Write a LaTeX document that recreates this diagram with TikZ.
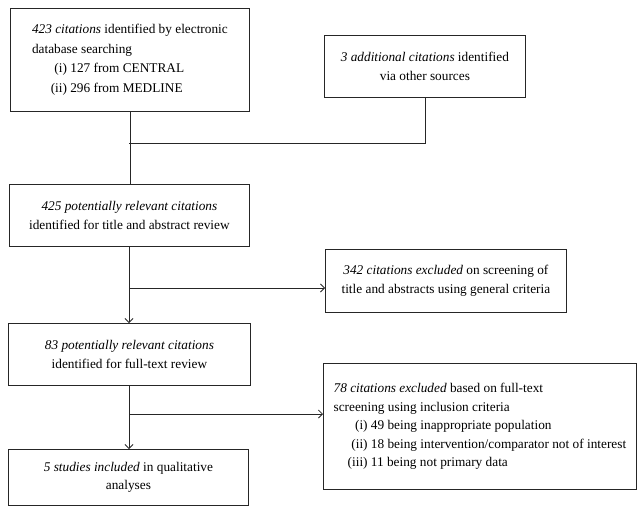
\documentclass[tikz,border=0pt]{standalone}
\usepackage{fontspec}
\setmainfont{Liberation Serif}
\usetikzlibrary{arrows.meta}
\newcommand\rlab[2]{\makebox[#1][r]{#2}\ }
\begin{document}
\begin{tikzpicture}[x=1pt,y=-1pt,
  box/.style={draw=black!85,line width=0.8pt,anchor=north west,inner sep=0pt,
    font=\fontsize{13.3}{18.5}\selectfont},
  conn/.style={draw=black!85,line width=0.8pt},
  arr/.style={conn,-{Straight Barb[length=4pt,width=8pt]}}]
\useasboundingbox (0,0) rectangle (644,514);
\node[box,minimum width=239pt,minimum height=103pt,align=left,
  font=\fontsize{13.3}{19.5}\selectfont] (b1) at (10,8)
  {\textit{423 citations} identified by electronic\\
   database searching\\
   \rlab{35pt}{(i)}127 from CENTRAL\\
   \rlab{35pt}{(ii)}296 from MEDLINE};
\node[box,minimum width=201pt,minimum height=62pt,align=center] (b2) at (324,35)
  {\textit{3 additional citations} identified\\ via other sources};
\node[box,minimum width=240pt,minimum height=62pt,align=center] (b3) at (9,184)
  {\textit{425 potentially relevant citations}\\ identified for title and abstract review};
\node[box,minimum width=241pt,minimum height=63pt,align=center] (b5) at (325,249)
  {\textit{342 citations excluded} on screening of\\ title and abstracts using general criteria};
\node[box,minimum width=242pt,minimum height=62pt,align=center] (b4) at (8,323)
  {\textit{83 potentially relevant citations}\\ identified for full-text review};
\node[box,minimum width=240pt,minimum height=56pt,align=center] (b6) at (8,449)
  {\textit{5 studies included} in qualitative\\ analyses};
\node[box,minimum width=313pt,minimum height=126pt,align=left] (b7) at (323,363)
  {\textit{78 citations excluded} based on full-text\\
   screening using inclusion criteria\\
   \rlab{34pt}{(i)}49 being inappropriate population\\
   \rlab{34pt}{(ii)}18 being intervention/comparator not of interest\\
   \rlab{34pt}{(iii)}11 being not primary data};
\coordinate (j1) at (129,143);
\coordinate (j2) at (129,288);
\coordinate (j3) at (129,414);
\draw[conn] (b1.south) -- (b1.south |- b3.north);
\draw[conn] (b2.south) |- (j1);
\draw[arr] (b3.south -| j2) -- (j2 |- b4.north);
\draw[arr] (j2) -- (j2 -| b5.west);
\draw[arr] (b4.south -| j3) -- (j3 |- b6.north);
\draw[arr] (j3) -- (j3 -| b7.west);
\end{tikzpicture}
\end{document}
